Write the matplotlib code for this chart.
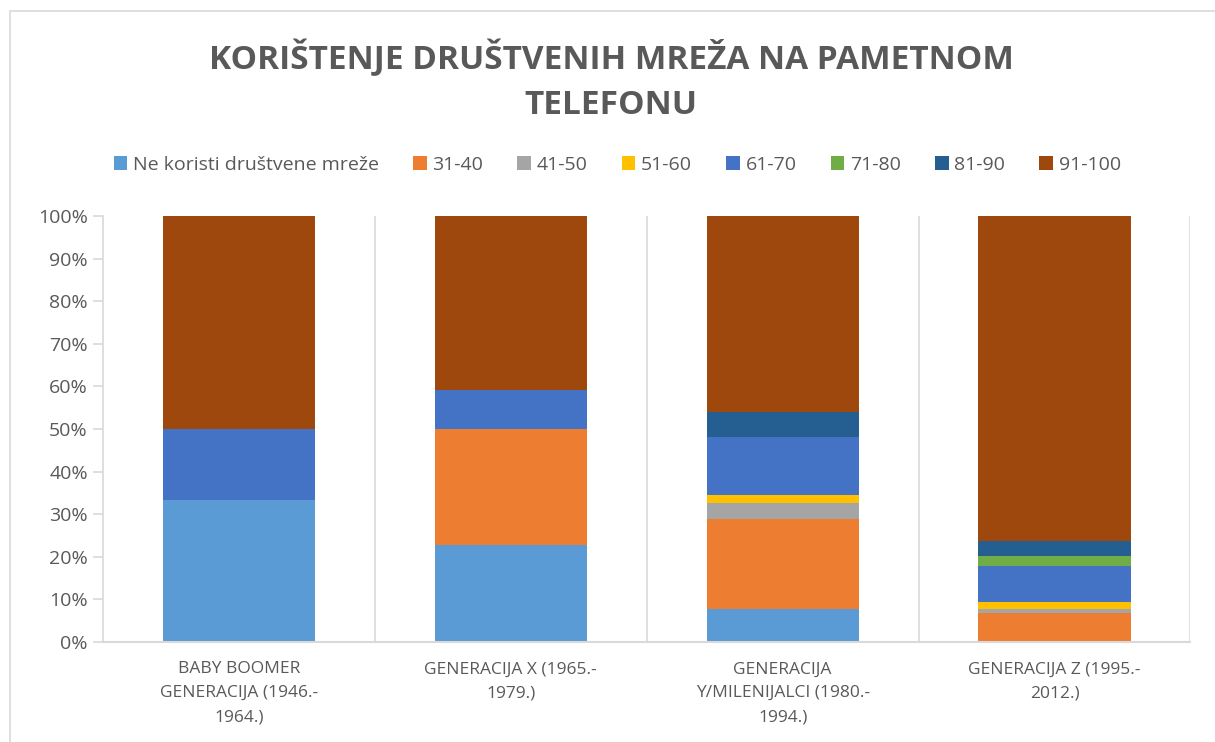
import matplotlib.pyplot as plt
from matplotlib.patches import Rectangle
from matplotlib.ticker import PercentFormatter

plt.rcParams['font.family'] = ['Open Sans', 'DejaVu Sans']

categories = ["BABY BOOMER\nGENERACIJA (1946.-\n1964.)",
              "GENERACIJA X (1965.-\n1979.)",
              "GENERACIJA\nY/MILENIJALCI (1980.-\n1994.)",
              "GENERACIJA Z (1995.-\n2012.)"]
series_names = ["Ne koristi društvene mreže", "31-40", "41-50", "51-60",
                "61-70", "71-80", "81-90", "91-100"]
ne_koristi = [33.3, 22.7, 7.7, 0.0]
s31_40 = [0.0, 27.3, 21.2, 6.7]
s41_50 = [0.0, 0.0, 3.8, 1.0]
s51_60 = [0.0, 0.0, 1.9, 1.7]
s61_70 = [16.7, 9.1, 13.5, 8.4]
s71_80 = [0.0, 0.0, 0.0, 2.5]
s81_90 = [0.0, 0.0, 5.8, 3.3]
s91_100 = [50.0, 40.9, 46.2, 76.4]

colors = ["#5B9BD5", "#ED7D31", "#A5A5A5", "#FFC000",
          "#4472C4", "#70AD47", "#255E91", "#9E480E"]

fig = plt.figure(figsize=(12.15, 7.42), dpi=100)
ax = fig.add_axes([0.0848, 0.1348, 0.895, 0.5741])

x = range(len(categories))
bottom = [0.0] * len(categories)
for name, vals, c in zip(series_names,
                         [ne_koristi, s31_40, s41_50, s51_60, s61_70, s71_80, s81_90, s91_100],
                         colors):
    ax.bar(x, vals, 0.56, bottom=bottom, color=c, label=name, zorder=2)
    bottom = [b + v for b, v in zip(bottom, vals)]

ax.set_xlim(-0.5, 3.5)
ax.set_ylim(0, 100)
ax.set_yticks(range(0, 101, 10))
ax.yaxis.set_major_formatter(PercentFormatter(decimals=0))
ax.set_xticks(list(x))
ax.set_xticklabels(categories, fontsize=12.5, color="#595959", linespacing=1.65)
ax.tick_params(axis='y', labelsize=14, colors="#595959", length=7, width=1.2, color="#D9D9D9", pad=4)
ax.tick_params(axis='x', length=0, pad=14)

for gx in [0.5, 1.5, 2.5, 3.5]:
    ax.axvline(gx, color="#D9D9D9", linewidth=1.2, zorder=1)

for s in ['top', 'right']:
    ax.spines[s].set_visible(False)
ax.spines['left'].set_color("#D9D9D9")
ax.spines['bottom'].set_color("#D9D9D9")
ax.spines['left'].set_linewidth(1.2)
ax.spines['bottom'].set_linewidth(1.5)

fig.text(0.503, 0.891, "KORIŠTENJE DRUŠTVENIH MREŽA NA PAMETNOM\nTELEFONU",
         ha='center', va='center', fontsize=24, fontweight='bold', color="#595959",
         linespacing=1.5)

fig.legend(loc='center', bbox_to_anchor=(0.508, 0.778), ncol=8, frameon=False,
           fontsize=14, handlelength=0.7, handleheight=0.7, handletextpad=0.3,
           columnspacing=1.75, labelcolor="#595959")

fig.patches.append(Rectangle((10 / 1215, -0.1), 1.2, 1 - 11 / 742 + 0.1,
                             transform=fig.transFigure, fill=False,
                             edgecolor="#D9D9D9", linewidth=1.2))

fig.savefig("out.png", dpi=100)
